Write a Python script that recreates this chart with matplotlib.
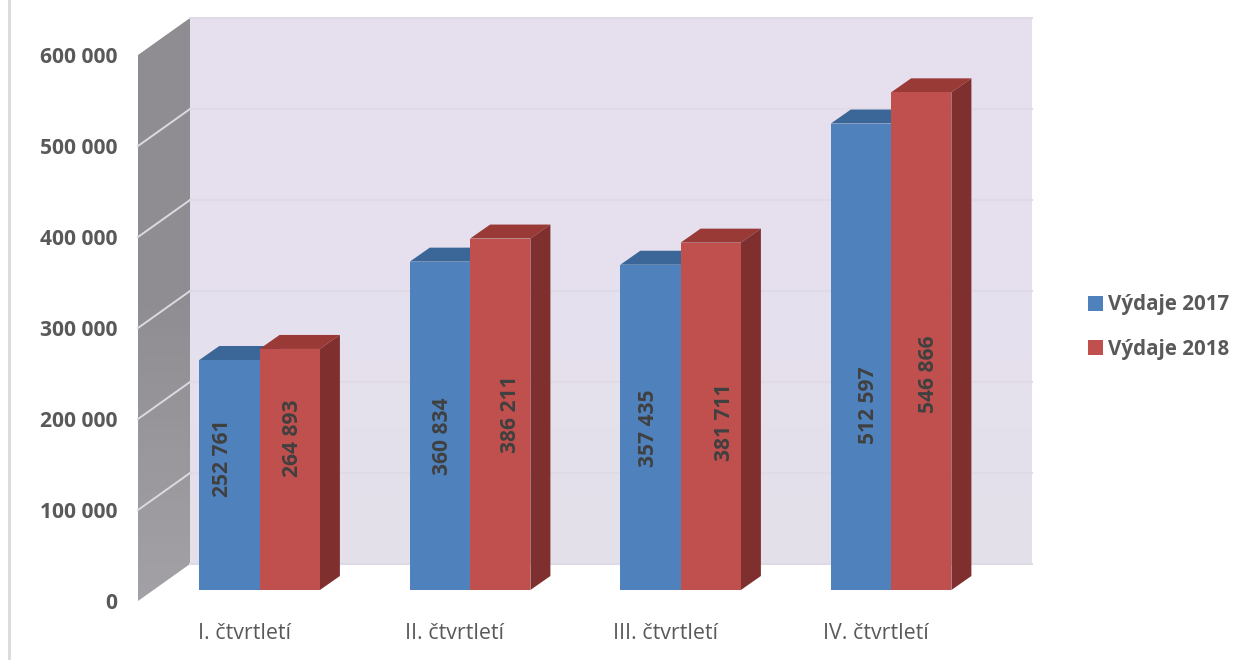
import numpy as np
from matplotlib import pyplot as plt
from matplotlib.patches import Polygon
from matplotlib.colors import LinearSegmentedColormap

plt.rcParams['font.family'] = ['Open Sans', 'DejaVu Sans']

categories = ['I. čtvrtletí', 'II. čtvrtletí', 'III. čtvrtletí', 'IV. čtvrtletí']
vydaje_2017 = [252761, 360834, 357435, 512597]
vydaje_2018 = [264893, 386211, 381711, 546866]
tick_values = [0, 100000, 200000, 300000, 400000, 500000, 600000]

W, H = 1247, 660
# pixels per one unit of value
scale = 0.91 / 1000
base_px = 590
depth_x, depth_y = 20, 14
bar_w = 60.3
group_x = 199.3 + 210.5 * np.arange(len(categories))

# hand placed data labels in the original (pixels)
label_x = [[223, 442, 648, 869], [293, 510, 724, 929]]
label_y = [[458, 436, 428, 405], [438, 414, 422, 374]]


def val(py):
    return (base_px - py) / scale


fig = plt.figure(figsize=(W / 100, H / 100), dpi=100)
ax = fig.add_axes([0, 0, 1, 1])

back_x0, back_x1 = 190, 1032
back_bottom = 564
step_px = 91
left_x = 138
left_bottom = 601

grid_color = '#dedae6'

# back wall, slightly lighter towards the floor
wall_cmap = LinearSegmentedColormap.from_list('wall', ['#e6e0ee', '#e6e0ee', '#e3e0ea'])
ax.imshow(np.linspace(0, 1, 64).reshape(-1, 1), cmap=wall_cmap, aspect='auto', zorder=1,
          extent=(back_x0, back_x1, val(back_bottom), val(back_bottom - 6 * step_px)))

# left wall, also fades towards the bottom
side_cmap = LinearSegmentedColormap.from_list('side', ['#8f8c92', '#918e93', '#a3a1a5'])
side_img = ax.imshow(np.linspace(0, 1, 64).reshape(-1, 1), cmap=side_cmap, aspect='auto', zorder=1,
                     extent=(left_x, back_x0, val(left_bottom), val(back_bottom - 6 * step_px)))
side_poly = Polygon([(left_x, val(left_bottom)), (back_x0, val(back_bottom)),
                     (back_x0, val(back_bottom - 6 * step_px)),
                     (left_x, val(left_bottom - 6 * step_px))],
                    fc='none', ec='none', transform=ax.transData)
ax.add_patch(side_poly)
side_img.set_clip_path(side_poly)

ax.set_xlim(0, W)
ax.set_ylim(val(H), val(0))
ax.axis('off')

# gridlines, back wall and across the left wall
for t in tick_values:
    k = t / 100000
    yb = val(back_bottom - k * step_px)
    yl = val(left_bottom - k * step_px)
    ax.plot([back_x0, back_x1], [yb, yb], color=grid_color, lw=1.5, zorder=2)
    if 0 < t < 600000:
        ax.plot([left_x, back_x0], [yl, yb], color='#dcd9e0', lw=1.4, zorder=2)
ax.plot([9, 9], [val(H), val(0)], color='#d9d9d9', lw=2, zorder=1)


def draw_bars(xs, values, front, top, side, label, z):
    dy = depth_y / scale
    for x, v in zip(xs, values):
        ax.add_patch(Polygon([(x, v), (x + depth_x, v + dy), (x + bar_w + depth_x, v + dy),
                              (x + bar_w, v)], fc=top, ec='none', zorder=z))
        ax.add_patch(Polygon([(x + bar_w, 0), (x + bar_w + depth_x, dy),
                              (x + bar_w + depth_x, v + dy), (x + bar_w, v)],
                             fc=side, ec='none', zorder=z))
    return ax.bar(xs, values, width=bar_w, align='edge', color=front, label=label, zorder=z + 0.5)


b1 = draw_bars(group_x, vydaje_2017, '#4f81bd', '#3b6798', '#35598a', 'Výdaje 2017', 3)
b2 = draw_bars(group_x + bar_w, vydaje_2018, '#c0504d', '#993a37', '#7f2f2d', 'Výdaje 2018', 4)


def fmt(v):
    return f'{v:,}'.replace(',', ' ')


# data labels
for s, values in enumerate([vydaje_2017, vydaje_2018]):
    for i, v in enumerate(values):
        ax.text(label_x[s][i], val(label_y[s][i]), fmt(v), rotation=90, ha='center', va='center',
                fontsize=15.1, fontweight='bold', color='#404040', zorder=6)

# value axis labels
for t in tick_values:
    k = t / 100000
    ax.text(117, val(left_bottom + 2.5 - k * step_px), fmt(t), ha='right', va='center',
            fontsize=15.1, fontweight='bold', color='#595959')

# category labels
for x, c in zip(group_x, categories):
    ax.text(x + bar_w - 15.5, val(633.5), c, ha='center', va='center',
            fontsize=15.4, color='#595959')

ax.legend(handles=[b1, b2], loc='center left', bbox_to_anchor=(1088 / W, 1 - 327 / H),
          frameon=False, prop={'size': 14.8, 'weight': 'bold'}, labelcolor='#595959',
          handlelength=0.72, handleheight=0.72, handletextpad=0.27, labelspacing=1.13,
          borderpad=0, borderaxespad=0)

fig.savefig('out.png', dpi=100)
